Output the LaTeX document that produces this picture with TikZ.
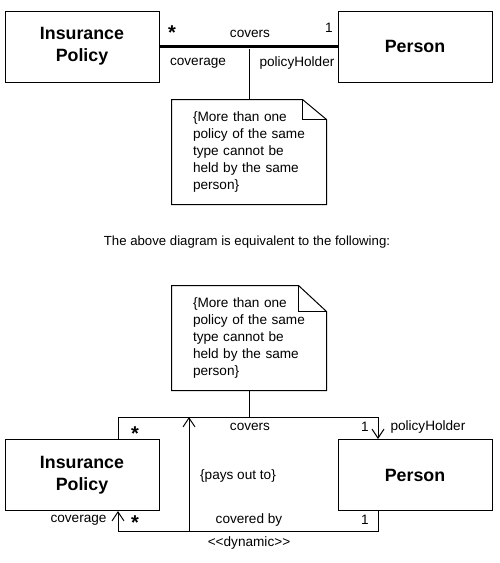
\documentclass[tikz,border=0pt]{standalone}
\usepackage{fontspec}
\setmainfont{Liberation Sans}
\usetikzlibrary{arrows.meta,calc}

\tikzset{
    classbox/.style={draw,line width=1pt,minimum width=154pt,minimum height=71pt,
        align=center,font=\fontsize{17.8}{22}\selectfont\bfseries},
    notebox/.style={minimum width=154pt,minimum height=104pt,text width=112pt,
        align=left,font=\fontsize{13.6}{17}\selectfont},
    lbl/.style={font=\fontsize{13.6}{16}\selectfont,inner sep=0pt},
    mult/.style={font=\fontsize{20}{20}\selectfont\bfseries,inner sep=0pt,anchor=north},
    openarr/.style={-{Straight Barb[length=9pt,width=12pt,line width=1pt]}},
}

\begin{document}
\begin{tikzpicture}[x=1pt,y=-1pt,line width=1pt]
    \useasboundingbox (0,0) rectangle (500,563);

    % first diagram
    \node[classbox] (pol1) at (82,46.5) {Insurance\\Policy};
    \node[classbox] (per1) at (415,46.5) {Person};
    \draw[line width=2.5pt] (pol1.east) -- (per1.west);
    \coordinate (a1) at (249,49);
    \node[notebox] (note1) at (249,152) {\{More than one\\policy of the same\\type cannot be\\held by the same\\person\}};
    \draw (note1.north west) -- ($(note1.north east)+(-24,0)$) -- ($(note1.north east)+(0,20)$)
        -- (note1.south east) -- (note1.south west) -- cycle;
    \draw ($(note1.north east)+(-24,0)$) -- ++(0,20) -- ++(24,0);
    \draw (a1) -- (note1.north);
    \node[mult] at (172,25) {*};
    \node[lbl] at (250,34) {covers};
    \node[lbl] at (329,28) {1};
    \node[lbl] at (198,63) {coverage};
    \node[lbl] at (297,63) {policyHolder};

    \node[lbl,font=\fontsize{13.2}{16}\selectfont] (eq) at (247,242) {The above diagram is equivalent to the following:};

    % second diagram
    \node[notebox] (note2) at (249,338) {\{More than one\\policy of the same\\type cannot be\\held by the same\\person\}};
    \draw (note2.north west) -- ($(note2.north east)+(-28,0)$) -- ($(note2.north east)+(0,26)$)
        -- (note2.south east) -- (note2.south west) -- cycle;
    \draw ($(note2.north east)+(-28,0)$) -- ++(0,26) -- ++(28,0);
    \node[classbox] (pol2) at (82,475) {Insurance\\Policy};
    \node[classbox] (per2) at (415,475) {Person};
    \coordinate (tl) at (118,417);
    \coordinate (tr) at (378,417);
    \coordinate (bl) at (118,531);
    \coordinate (br) at (378,531);
    \coordinate (mt) at (189,417);
    \coordinate (mb) at (189,531);
    \coordinate (nj) at (249,417);
    \draw (pol2.north -| tl) -- (tl) -- (tr);
    \draw[openarr] (tr) -- (tr |- per2.north);
    \draw[openarr] (bl) -- (bl |- pol2.south);
    \draw (bl) -- (br) -- (br |- per2.south);
    \draw[openarr] (mb) -- (mt);
    \draw (note2.south) -- (nj);
    \node[mult] at (135,426) {*};
    \node[lbl] at (250,427) {covers};
    \node[lbl] at (365,427) {1};
    \node[lbl,anchor=west] at (390,427) {policyHolder};
    \node[lbl] at (238,476) {\{pays out to\}};
    \node[lbl,anchor=east] at (107,520) {coverage};
    \node[mult] at (135,515) {*};
    \node[lbl] at (249,520) {covered by};
    \node[lbl] at (365,520) {1};
    \node[lbl] at (249,543) {{<}{<}dynamic{>}{>}};
\end{tikzpicture}
\end{document}
